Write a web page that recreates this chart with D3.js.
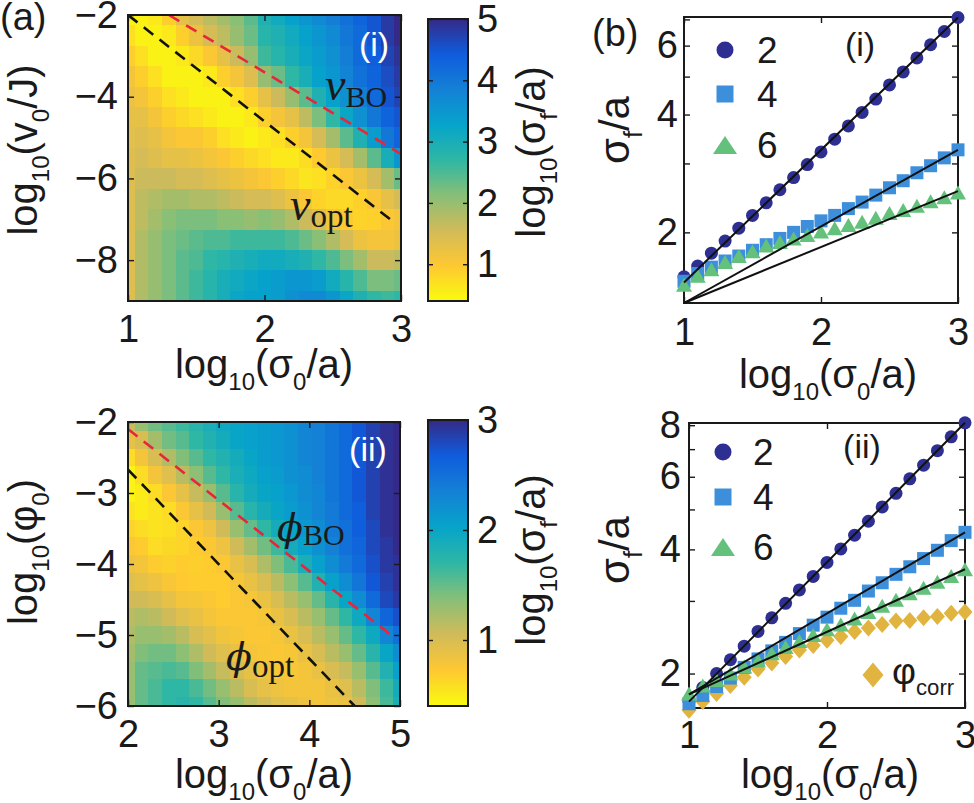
<!DOCTYPE html>
<html>
<head>
<meta charset="utf-8">
<script src="https://cdn.jsdelivr.net/npm/d3@7/dist/d3.min.js"></script>
<style>
  body { margin: 0; background: #fff; }
  svg text { fill: #1a1a1a; }
</style>
</head>
<body>
<svg id="fig" width="974" height="803"></svg>
<script>
//--------------------------------------------
// DATA
//--------------------------------------------
// (a)(i) map: one inner array per column (fixed log10(sigma0/a)), top (y=-2) to bottom (y=-9)
const mapIX = [1.0, 1.1, 1.2, 1.3, 1.4, 1.5, 1.6, 1.7, 1.8, 1.9, 2.0, 2.1, 2.2, 2.3, 2.4, 2.5, 2.6, 2.7, 2.8, 2.9, 3.0];
const mapIY = [-2, -2.5, -3, -3.5, -4, -4.5, -5, -5.5, -6, -6.5, -7, -7.5, -8, -8.5, -9];
const mapIZ = [
  [0.5,0.7,0.9,1.1,1.2,1.3,1.35,1.4,1.4,1.4,1.4,1.4,1.4,1.4,1.4],
  [0.5,0.5,0.7,0.9,1.1,1.3,1.4,1.5,1.6,1.7,1.7,1.8,1.8,1.8,1.8],
  [0.6,0.5,0.5,0.7,0.9,1.1,1.3,1.4,1.6,1.8,1.9,2.0,2.0,2.0,2.0],
  [0.9,0.6,0.5,0.5,0.7,0.9,1.1,1.3,1.6,1.9,2.1,2.2,2.2,2.2,2.2],
  [1.3,0.9,0.6,0.5,0.6,0.8,1.0,1.3,1.5,1.9,2.2,2.3,2.4,2.4,2.4],
  [1.5,1.2,0.8,0.5,0.5,0.7,1.0,1.2,1.5,1.8,2.2,2.4,2.5,2.6,2.6],
  [1.7,1.5,1.0,0.6,0.5,0.6,0.9,1.1,1.4,1.8,2.2,2.5,2.7,2.8,2.8],
  [1.9,1.7,1.3,0.9,0.5,0.5,0.7,1.0,1.3,1.7,2.1,2.5,2.8,3.0,3.0],
  [2.1,2.0,1.6,1.1,0.7,0.5,0.6,0.9,1.2,1.6,2.1,2.6,2.9,3.1,3.2],
  [2.4,2.3,2.0,1.4,0.9,0.6,0.5,0.8,1.1,1.5,2.0,2.6,3.0,3.2,3.3],
  [2.9,2.8,2.6,2.0,1.3,0.9,0.6,0.7,1.0,1.5,2.1,2.6,3.1,3.3,3.3],
  [3.1,2.9,2.8,2.3,1.6,1.1,0.7,0.6,0.9,1.4,2.0,2.6,3.1,3.4,3.4],
  [3.3,3.1,3.0,2.7,2.0,1.3,0.9,0.6,0.8,1.2,1.8,2.5,3.0,3.5,3.6],
  [3.5,3.3,3.2,3.0,2.4,1.7,1.1,0.75,0.65,1.0,1.6,2.3,2.9,3.5,3.7],
  [3.7,3.5,3.4,3.3,2.9,2.2,1.5,0.95,0.7,0.85,1.4,2.1,2.7,3.4,3.7],
  [3.9,3.7,3.6,3.5,3.3,2.7,1.9,1.2,0.85,0.78,1.1,1.8,2.5,3.1,3.5],
  [4.1,4.0,3.9,3.8,3.6,3.2,2.4,1.5,1.0,0.8,0.95,1.5,2.2,2.8,3.2],
  [4.3,4.2,4.2,4.1,3.9,3.6,2.9,1.9,1.2,0.88,0.85,1.2,1.9,2.5,2.9],
  [4.5,4.5,4.4,4.3,4.2,4.0,3.4,2.4,1.5,1.05,0.88,1.1,1.6,2.2,2.7],
  [4.8,4.8,4.7,4.6,4.5,4.3,4.0,3.0,1.9,1.3,1.0,1.1,1.6,2.2,2.6],
  [5.0,5.0,4.9,4.8,4.7,4.5,4.3,3.5,2.3,1.5,1.1,1.2,1.7,2.3,2.7]
];
const mapIBO  = [[1.3, -2.0], [3.0, -5.4]];
const mapIOpt = [[1.0, -2.0], [2.94, -7.05]];

// (a)(ii) map: columns of log10(phi0) from -2 (top) to -6 (bottom)
const mapIIX = [2.0, 2.15, 2.3, 2.45, 2.6, 2.75, 2.9, 3.05, 3.2, 3.35, 3.5, 3.65, 3.8, 3.95, 4.1, 4.25, 4.4, 4.55, 4.7, 4.85, 5.0];
const mapIIY = [-2, -2.25, -2.5, -2.75, -3, -3.25, -3.5, -3.75, -4, -4.25, -4.5, -4.75, -5, -5.25, -5.5, -5.75, -6];
const mapIIZ = [
  [1.1,0.9,0.6,0.45,0.45,0.55,0.65,0.75,0.85,0.95,1.05,1.15,1.2,1.25,1.3,1.3,1.3],
  [1.3,1.0,0.8,0.6,0.5,0.5,0.6,0.7,0.8,0.9,1.05,1.2,1.3,1.4,1.5,1.5,1.5],
  [1.45,1.25,1.0,0.8,0.6,0.55,0.55,0.6,0.7,0.85,1.0,1.15,1.3,1.45,1.55,1.6,1.6],
  [1.55,1.45,1.2,0.95,0.75,0.6,0.58,0.62,0.67,0.77,0.9,1.05,1.25,1.45,1.6,1.7,1.7],
  [1.65,1.55,1.4,1.15,0.9,0.75,0.65,0.65,0.7,0.72,0.8,0.95,1.15,1.35,1.55,1.7,1.75],
  [1.75,1.7,1.55,1.35,1.1,0.9,0.75,0.7,0.68,0.7,0.78,0.88,1.0,1.2,1.4,1.6,1.7],
  [1.85,1.8,1.7,1.55,1.3,1.05,0.85,0.75,0.7,0.7,0.74,0.8,0.92,1.05,1.25,1.45,1.55],
  [1.95,1.9,1.8,1.7,1.55,1.3,1.05,0.85,0.75,0.7,0.7,0.74,0.82,0.95,1.1,1.3,1.4],
  [2.0,2.0,1.9,1.85,1.75,1.55,1.3,1.05,0.88,0.78,0.74,0.74,0.78,0.87,1.0,1.15,1.3],
  [2.05,2.05,2.0,1.95,1.9,1.75,1.5,1.25,1.0,0.87,0.78,0.74,0.74,0.8,0.9,1.0,1.15],
  [2.1,2.1,2.1,2.05,2.0,1.9,1.7,1.45,1.2,1.0,0.87,0.78,0.74,0.76,0.82,0.9,1.05],
  [2.15,2.15,2.15,2.1,2.05,2.0,1.9,1.65,1.4,1.15,1.0,0.87,0.78,0.75,0.77,0.85,0.95],
  [2.2,2.2,2.2,2.2,2.15,2.1,2.0,1.9,1.6,1.35,1.15,1.0,0.87,0.78,0.77,0.8,0.9],
  [2.3,2.3,2.3,2.25,2.25,2.2,2.15,2.05,1.85,1.55,1.3,1.15,1.0,0.87,0.8,0.8,0.85],
  [2.35,2.35,2.35,2.35,2.3,2.3,2.25,2.2,2.05,1.8,1.5,1.3,1.15,1.0,0.87,0.8,0.8],
  [2.45,2.45,2.45,2.45,2.45,2.4,2.4,2.35,2.25,2.05,1.75,1.5,1.3,1.15,1.0,0.87,0.85],
  [2.55,2.55,2.55,2.55,2.55,2.55,2.5,2.5,2.4,2.25,2.0,1.7,1.5,1.3,1.1,0.95,0.87],
  [2.7,2.7,2.7,2.7,2.7,2.65,2.65,2.6,2.55,2.45,2.25,1.95,1.7,1.5,1.3,1.15,1.05],
  [2.85,2.85,2.85,2.85,2.85,2.85,2.8,2.8,2.75,2.7,2.55,2.3,1.95,1.75,1.55,1.4,1.35],
  [2.95,2.95,2.95,2.95,2.95,2.95,2.95,2.9,2.9,2.85,2.8,2.6,2.3,2.0,1.8,1.65,1.6],
  [3.0,3.0,3.0,3.0,3.0,3.0,3.0,3.0,2.95,2.95,2.9,2.75,2.5,2.25,2.05,1.9,1.85]
];
const mapIIBO  = [[2.0, -2.1], [4.9, -5.0]];
const mapIIOpt = [[2.0, -2.67], [4.5, -6.0]];

// (b) sigma_f/a against log10(sigma0/a)
const sigma0 = [1.0, 1.1, 1.2, 1.3, 1.4, 1.5, 1.6, 1.7, 1.8, 1.9, 2.0, 2.1, 2.2, 2.3, 2.4, 2.5, 2.6, 2.7, 2.8, 2.9, 3.0];
const bIn2 = [1.54,1.64,1.77,1.90,2.05,2.21,2.38,2.57,2.76,2.98,3.21,3.46,3.74,4.05,4.38,4.76,5.14,5.58,6.03,6.52,7.08];
const bIn4 = [1.50,1.57,1.63,1.69,1.74,1.80,1.86,1.93,2.00,2.07,2.14,2.21,2.30,2.39,2.49,2.60,2.71,2.84,2.96,3.10,3.25];
const bIn6 = [1.47,1.55,1.61,1.68,1.74,1.79,1.85,1.89,1.93,1.97,2.01,2.05,2.09,2.13,2.18,2.24,2.28,2.34,2.40,2.46,2.53];
const bIFits = [[[1, 1.49], [3, 7.08]], [[1, 1.32], [3, 3.25]], [[1, 1.32], [3, 2.55]]];

const bIIn2 = [1.71,1.85,2.00,2.16,2.33,2.53,2.73,2.96,3.19,3.44,3.72,4.01,4.33,4.68,5.07,5.47,5.93,6.40,6.94,7.50,8.11];
const bIIn4 = [1.69,1.77,1.86,1.95,2.07,2.17,2.27,2.38,2.50,2.62,2.74,2.88,3.01,3.17,3.32,3.48,3.63,3.80,3.98,4.20,4.40];
const bIIn6 = [1.79,1.87,1.93,2.00,2.08,2.15,2.24,2.32,2.40,2.48,2.56,2.63,2.72,2.82,2.92,3.02,3.13,3.23,3.34,3.45,3.58];
const bIIcorr = [1.63,1.71,1.79,1.87,1.96,2.05,2.12,2.20,2.28,2.34,2.41,2.46,2.53,2.58,2.63,2.68,2.69,2.73,2.75,2.80,2.82];
const bIIFits = [[[1, 1.71], [3, 8.11]], [[1, 1.78], [3, 4.40]], [[1, 1.78], [3, 3.58]]];

const legendLabels = ["2", "4", "6"];

//--------------------------------------------
// CONFIG
//--------------------------------------------
const SANS = '"Liberation Sans", Arial, Helvetica, sans-serif',
      SERIF = '"Liberation Serif", "Times New Roman", serif',
      INK = "#1a1a1a",
      RED = "#e8253b",
      TICK = 38,
      parula = ["#352a87", "#0f5cdd", "#1481d6", "#06a4ca", "#2eb7a4", "#87bf77", "#d1bb59", "#fec832", "#f9fb0e"],
      markCol = { n2: "#2d2f92", n4: "#3d8fdb", n6: "#63c17b", corr: "#e0b43f" };

const svg = d3.select("#fig");

// colour scale: high -> navy, low -> yellow
function parulaScale(lo, hi) {
  return d3.scaleLinear()
    .domain(parula.map((_, i) => hi - i * (hi - lo) / (parula.length - 1)))
    .range(parula)
    .clamp(true);
}

// text with subscripts: parts = ["log", ["10"], "(σ", ["0"], "/a)"]
function rich(sel, parts, size, family) {
  let shift = 0;
  parts.forEach(p => {
    const sub = Array.isArray(p);
    const target = sub ? size * 0.3 : 0;
    sel.append("tspan")
      .attr("dy", target - shift)
      .attr("font-size", sub ? size * 0.6 : size)
      .attr("font-family", family || SANS)
      .text(sub ? p[0] : p);
    shift = target;
  });
  return sel;
}

function label(x, y, parts, size, rot) {
  const t = svg.append("text")
    .attr("text-anchor", "middle")
    .attr("transform", rot ? `translate(${x},${y}) rotate(-90)` : `translate(${x},${y})`);
  return rich(t, parts, size);
}

function styleAxis(g, size) {
  g.attr("font-size", size).attr("font-family", SANS);
  g.select(".domain").remove();
  g.selectAll(".tick line").attr("stroke", INK).attr("stroke-width", 1.4);
  g.selectAll(".tick text").attr("fill", INK);
}

// four-sided MATLAB style box with inward ticks
function frame(b, x, y, o) {
  const fmt = o.xf || d3.format("d"), yfmt = o.yf || d3.format("d");
  svg.append("g").attr("transform", `translate(0,${b.y1})`)
    .call(d3.axisBottom(x).tickValues(o.xt).tickSize(-6).tickSizeOuter(0).tickPadding(o.xpad).tickFormat(fmt))
    .call(g => styleAxis(g, TICK));
  svg.append("g").attr("transform", `translate(0,${b.y0})`)
    .call(d3.axisTop(x).tickValues(o.xt).tickSize(-6).tickSizeOuter(0).tickFormat(""))
    .call(g => styleAxis(g, TICK));
  svg.append("g").attr("transform", `translate(${b.x0},0)`)
    .call(d3.axisLeft(y).tickValues(o.yt).tickSize(-6).tickSizeOuter(0).tickPadding(o.ypad).tickFormat(yfmt))
    .call(g => styleAxis(g, TICK));
  svg.append("g").attr("transform", `translate(${b.x1},0)`)
    .call(d3.axisRight(y).tickValues(o.yt).tickSize(-6).tickSizeOuter(0).tickFormat(""))
    .call(g => styleAxis(g, TICK));
  svg.append("rect")
    .attr("x", b.x0).attr("y", b.y0)
    .attr("width", b.x1 - b.x0).attr("height", b.y1 - b.y0)
    .attr("fill", "none").attr("stroke", INK).attr("stroke-width", 2);
}

//--------------------------------------------
// (a) HEAT MAPS
//--------------------------------------------
function heatPanel(id, b, xs, ys, cols, lo, hi, bo, opt) {
  const x = d3.scaleLinear([xs[0], xs[xs.length - 1]], [b.x0, b.x1]),
        y = d3.scaleLinear([ys[ys.length - 1], ys[0]], [b.y1, b.y0]),
        color = parulaScale(lo, hi),
        hx = (xs[1] - xs[0]) / 2,
        hy = (ys[0] - ys[1]) / 2;

  svg.append("clipPath").attr("id", id)
    .append("rect").attr("x", b.x0).attr("y", b.y0)
    .attr("width", b.x1 - b.x0).attr("height", b.y1 - b.y0);

  const cells = [];
  cols.forEach((col, i) => col.forEach((v, j) => cells.push({ cx: xs[i], cy: ys[j], v })));

  const g = svg.append("g").attr("clip-path", `url(#${id})`);
  g.selectAll("rect").data(cells).join("rect")
    .attr("x", d => x(d.cx - hx))
    .attr("y", d => y(d.cy + hy))
    .attr("width", x(xs[0] + hx) - x(xs[0] - hx) + 0.7)
    .attr("height", y(ys[0] - hy) - y(ys[0] + hy) + 0.7)
    .attr("fill", d => color(d.v))
    .attr("shape-rendering", "crispEdges");

  const line = d3.line().x(d => x(d[0])).y(d => y(d[1]));
  g.append("path").attr("d", line(bo)).attr("fill", "none")
    .attr("stroke", RED).attr("stroke-width", 2.6).attr("stroke-dasharray", "12,8");
  g.append("path").attr("d", line(opt)).attr("fill", "none")
    .attr("stroke", "#111").attr("stroke-width", 2.6).attr("stroke-dasharray", "12,8");
  return { x, y };
}

function colorbar(id, b, lo, hi, ticks) {
  const grad = svg.append("linearGradient").attr("id", id)
    .attr("x1", 0).attr("y1", 0).attr("x2", 0).attr("y2", 1);
  parula.forEach((c, i) => grad.append("stop").attr("offset", i / (parula.length - 1)).attr("stop-color", c));
  svg.append("rect").attr("x", b.x0).attr("y", b.y0)
    .attr("width", b.x1 - b.x0).attr("height", b.y1 - b.y0)
    .attr("fill", `url(#${id})`);
  const s = d3.scaleLinear([lo, hi], [b.y1, b.y0]);
  svg.append("g").attr("transform", `translate(${b.x1},0)`)
    .call(d3.axisRight(s).tickValues(ticks).tickSize(-5).tickSizeOuter(0).tickPadding(9).tickFormat(d3.format("d")))
    .call(g => styleAxis(g, TICK));
  svg.append("g").attr("transform", `translate(${b.x0},0)`)
    .call(d3.axisLeft(s).tickValues(ticks).tickSize(-5).tickSizeOuter(0).tickFormat(""))
    .call(g => styleAxis(g, TICK));
  svg.append("rect").attr("x", b.x0).attr("y", b.y0)
    .attr("width", b.x1 - b.x0).attr("height", b.y1 - b.y0)
    .attr("fill", "none").attr("stroke", INK).attr("stroke-width", 2);
}

const A1 = { x0: 128, x1: 401, y0: 15, y1: 301 },
      A2 = { x0: 128, x1: 400, y0: 422, y1: 706 },
      C1 = { x0: 428, x1: 468, y0: 19, y1: 301 },
      C2 = { x0: 428, x1: 468, y0: 420, y1: 706 },
      B1 = { x0: 684, x1: 958, y0: 17, y1: 303 },
      B2 = { x0: 689, x1: 965, y0: 423, y1: 708 };

const pA1 = heatPanel("clipA1", A1, mapIX, mapIY, mapIZ, 0.4, 5.0, mapIBO, mapIOpt);
frame(A1, pA1.x, pA1.y, { xt: [1, 2, 3], yt: [-2, -4, -6, -8], xpad: 14, ypad: 10 });
colorbar("gradA1", C1, 0.4, 5.0, [1, 2, 3, 4, 5]);

const pA2 = heatPanel("clipA2", A2, mapIIX, mapIIY, mapIIZ, 0.4, 3.0, mapIIBO, mapIIOpt);
frame(A2, pA2.x, pA2.y, { xt: [2, 3, 4, 5], yt: [-2, -3, -4, -5, -6], xpad: 14, ypad: 10 });
colorbar("gradA2", C2, 0.4, 3.0, [1, 2, 3]);

// axis labels (a)
label(264, 378, ["log", ["10"], "(σ", ["0"], "/a)"], 40);
label(37, 150, ["log", ["10"], "(v", ["0"], "/J)"], 40, true);
label(545, 152, ["log", ["10"], "(σ", ["f"], "/a)"], 40, true);
label(264, 788, ["log", ["10"], "(σ", ["0"], "/a)"], 40);
label(37, 552, ["log", ["10"], "(φ", ["0"], ")"], 40, true);
label(545, 560, ["log", ["10"], "(σ", ["f"], "/a)"], 40, true);

// in-map annotations
function mathLabel(x, y, sym, symFont, sub, color, subDy, subSize) {
  const t = svg.append("text").attr("x", x).attr("y", y).attr("fill", color);
  t.append("tspan").attr("font-family", symFont).attr("font-style", "italic")
    .attr("font-size", sym === "v" ? 46 : 38).text(sym);
  t.append("tspan").attr("font-family", SERIF).attr("font-size", subSize)
    .attr("dy", subDy).text(sub);
}
mathLabel(325, 100, "v", SERIF, "BO", RED, 7, 30);
mathLabel(290, 220, "v", SERIF, "opt", "#111", 7, 33);
mathLabel(277, 541, "ϕ", '"DejaVu Serif", serif', "BO", RED, 4, 30);
mathLabel(226, 670, "ϕ", '"DejaVu Serif", serif', "opt", "#111", 7, 33);

svg.append("text").attr("x", 374).attr("y", 56).attr("text-anchor", "middle")
  .attr("font-family", SANS).attr("font-size", 34).style("fill", "#fff").text("(i)");
svg.append("text").attr("x", 368).attr("y", 461).attr("text-anchor", "middle")
  .attr("font-family", SANS).attr("font-size", 34).style("fill", "#fff").text("(ii)");

//--------------------------------------------
// (b) SCALING PLOTS
//--------------------------------------------
const shape = {
  circle: r => d3.symbol(d3.symbolCircle, Math.PI * r * r)(),
  square: s => `M${-s / 2},${-s / 2}h${s}v${s}h${-s}Z`,
  triangle: (w, h) => `M0,${-h / 2}L${w / 2},${h / 2}L${-w / 2},${h / 2}Z`,
  diamond: (w, h) => `M0,${-h / 2}L${w / 2},0L0,${h / 2}L${-w / 2},0Z`
};

function markers(x, y, ys, d, fill) {
  svg.append("g").selectAll("path").data(sigma0.map((s, i) => [s, ys[i]])).join("path")
    .attr("transform", p => `translate(${x(p[0])},${y(p[1])})`)
    .attr("d", d).attr("fill", fill);
}

function fitLines(x, y, fits) {
  const line = d3.line().x(d => x(d[0])).y(d => y(d[1]));
  svg.append("g").selectAll("path").data(fits).join("path")
    .attr("d", line).attr("fill", "none").attr("stroke", "#111").attr("stroke-width", 2);
}

function legend(x0, ys, tx) {
  const ds = [shape.circle(8.5), shape.square(17), shape.triangle(24, 18)],
        cs = [markCol.n2, markCol.n4, markCol.n6];
  ys.forEach((yy, i) => {
    svg.append("path").attr("transform", `translate(${x0},${yy})`).attr("d", ds[i]).attr("fill", cs[i]);
    svg.append("text").attr("x", tx).attr("y", yy + 13).attr("font-family", SANS)
      .attr("font-size", 37).text(legendLabels[i]);
  });
}

// (b)(i)
const xB1 = d3.scaleLinear([1, 3], [B1.x0, B1.x1]),
      yB1 = d3.scaleLog([1.32, 7.1], [B1.y1, B1.y0]);
frame(B1, xB1, yB1, {
  xt: [1, 2, 3], yt: [2, 3, 4, 5, 6, 7], xpad: 15, ypad: 6,
  yf: d => [2, 4, 6].includes(d) ? d : ""
});
markers(xB1, yB1, bIn2, shape.circle(6.5), markCol.n2);
markers(xB1, yB1, bIn4, shape.square(13), markCol.n4);
markers(xB1, yB1, bIn6, shape.triangle(16, 14), markCol.n6);
fitLines(xB1, yB1, bIFits);
legend(725, [50, 94, 145], 757);
svg.append("text").attr("x", 860).attr("y", 56).attr("text-anchor", "middle")
  .attr("font-family", SANS).attr("font-size", 34).text("(i)");
label(828, 388, ["log", ["10"], "(σ", ["0"], "/a)"], 40);
label(629, 130, ["σ", ["f"], "/a"], 42, true);

// (b)(ii)
const xB2 = d3.scaleLinear([1, 3], [B2.x0, B2.x1]),
      yB2 = d3.scaleLog([1.65, 8.1], [B2.y1, B2.y0]);
frame(B2, xB2, yB2, {
  xt: [1, 2, 3], yt: [2, 3, 4, 5, 6, 7, 8], xpad: 13, ypad: 8,
  yf: d => [2, 4, 6, 8].includes(d) ? d : ""
});
markers(xB2, yB2, bIIcorr, shape.diamond(15, 17), markCol.corr);
markers(xB2, yB2, bIIn2, shape.circle(6.5), markCol.n2);
markers(xB2, yB2, bIIn4, shape.square(13), markCol.n4);
markers(xB2, yB2, bIIn6, shape.triangle(16, 14), markCol.n6);
fitLines(xB2, yB2, bIIFits);
legend(723, [452, 497, 547], 753);
svg.append("path").attr("transform", "translate(873,675)").attr("d", shape.diamond(21, 25)).attr("fill", markCol.corr);
rich(svg.append("text").attr("x", 892).attr("y", 684), ["φ", ["corr"]], 37);
svg.append("text").attr("x", 862).attr("y", 458).attr("text-anchor", "middle")
  .attr("font-family", SANS).attr("font-size", 34).text("(ii)");
label(830, 788, ["log", ["10"], "(σ", ["0"], "/a)"], 40);
label(629, 550, ["σ", ["f"], "/a"], 42, true);

// panel letters
svg.append("text").attr("x", 0).attr("y", 30).attr("font-family", SANS).attr("font-size", 38).text("(a)");
svg.append("text").attr("x", 592).attr("y", 46).attr("font-family", SANS).attr("font-size", 38).text("(b)");
</script>
</body>
</html>
